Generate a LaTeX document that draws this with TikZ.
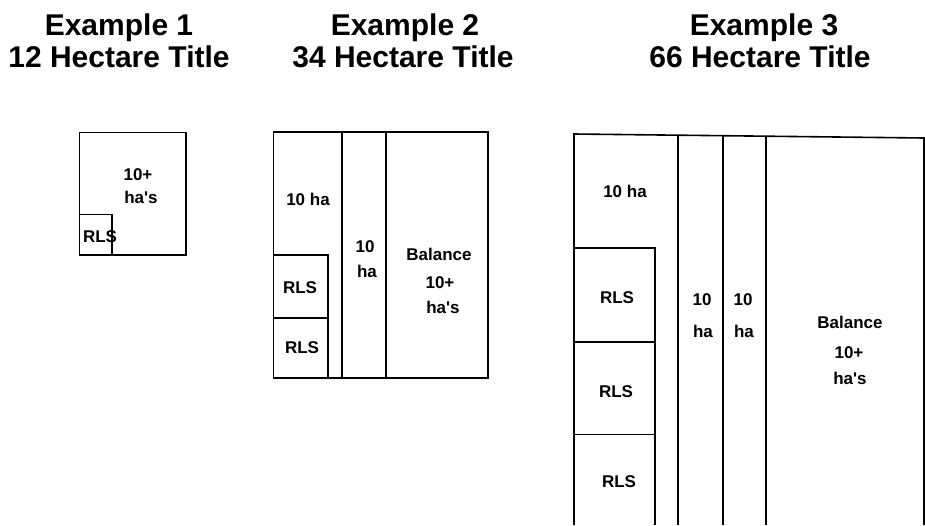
\documentclass[tikz,border=0pt]{standalone}
\usepackage{fontspec}
\setmainfont{Liberation Sans}
\begin{document}
\begin{tikzpicture}[x=1pt,y=-1pt,
  plot/.style={line width=1.6pt, line join=miter},
  ttl/.style={anchor=base, inner sep=0pt, font=\fontsize{30}{32}\selectfont\bfseries},
  lbl/.style={anchor=base, inner sep=0pt, font=\fontsize{17}{20}\selectfont\bfseries}]
\useasboundingbox (0,0) rectangle (925,525);
\fill[white] (0,0) rectangle (925,525);
% Titles
\node[ttl] (t1a) at (119,35) {Example 1};
\node[ttl] (t1b) at (119,67) {12 Hectare Title};
\node[ttl] (t2a) at (405,35) {Example 2};
\node[ttl] (t2b) at (403,67) {34 Hectare Title};
\node[ttl] (t3a) at (764,35) {Example 3};
\node[ttl] (t3b) at (760,67) {66 Hectare Title};
% Example 1
\draw[plot] (79.5,132.5) rectangle (186,255);
\draw[plot] (79.5,214.5) -- (112,214.5) -- (112,255);
\node[lbl] (e1a) at (138,180) {10+};
\node[lbl] (e1b) at (141,203) {ha\textquotesingle s};
\node[lbl] (e1r) at (100,242) {RLS};
% Example 2
\draw[plot] (273.5,132) rectangle (488,378);
\draw[plot] (342,132) -- (342,378);
\draw[plot] (386,132) -- (386,378);
\draw[plot] (273.5,255) -- (328,255) -- (328,378);
\draw[plot] (273.5,318) -- (328,318);
\node[lbl] (e2a) at (308,205) {10 ha};
\node[lbl] (e2r1) at (300,293) {RLS};
\node[lbl] (e2r2) at (302,353) {RLS};
\node[lbl] (e2b1) at (365,252) {10};
\node[lbl] (e2b2) at (367,277) {ha};
\node[lbl] (e2c1) at (439,260) {Balance};
\node[lbl] (e2c2) at (440,288) {10+};
\node[lbl] (e2c3) at (443,313) {ha\textquotesingle s};
% Example 3
\draw[plot] (574,525) -- (574,134) -- (924,138) -- (924,525);
\draw[plot] (678,135.2) -- (678,525);
\draw[plot] (723,135.7) -- (723,525);
\draw[plot] (766,136.2) -- (766,525);
\draw[plot] (574,248) -- (655,248) -- (655,525);
\draw[plot] (574,342) -- (655,342);
\draw[plot] (574,434.5) -- (655,434.5);
\node[lbl] (e3a) at (625,197) {10 ha};
\node[lbl] (e3r1) at (617,303) {RLS};
\node[lbl] (e3r2) at (616,397) {RLS};
\node[lbl] (e3r3) at (619,487) {RLS};
\node[lbl] (e3b1) at (702,305) {10};
\node[lbl] (e3b2) at (703,337) {ha};
\node[lbl] (e3c1) at (743,305) {10};
\node[lbl] (e3c2) at (744,337) {ha};
\node[lbl] (e3d1) at (850,328) {Balance};
\node[lbl] (e3d2) at (849,358) {10+};
\node[lbl] (e3d3) at (850,384) {ha\textquotesingle s};
\end{tikzpicture}
\end{document}
